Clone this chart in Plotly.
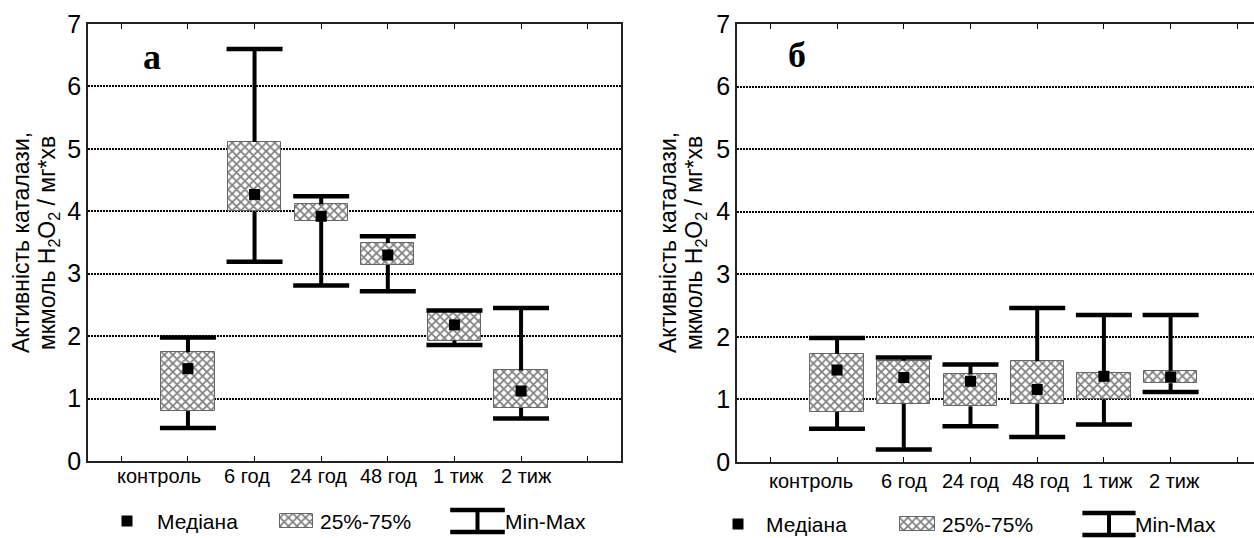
import plotly.graph_objects as go

# ---------------- data ----------------
categories = ["контроль", "6 год", "24 год", "48 год", "1 тиж", "2 тиж"]
positions = [1, 2, 3, 4, 5, 6]
tick_positions = [0, 1, 2, 3, 4, 5, 6, 7]
y_ticks = [0, 1, 2, 3, 4, 5, 6, 7]

# panel а
a_min = [0.53, 3.19, 2.81, 2.72, 1.86, 0.68]
a_q1 = [0.80, 4.00, 3.84, 3.14, 1.93, 0.85]
a_med = [1.48, 4.27, 3.92, 3.30, 2.18, 1.12]
a_q3 = [1.74, 5.11, 4.11, 3.49, 2.39, 1.45]
a_max = [1.98, 6.60, 4.24, 3.60, 2.41, 2.45]

# panel б
b_min = [0.53, 0.20, 0.57, 0.40, 0.60, 1.12]
b_q1 = [0.80, 0.93, 0.89, 0.93, 1.00, 1.26]
b_med = [1.47, 1.35, 1.29, 1.16, 1.37, 1.36]
b_q3 = [1.73, 1.62, 1.40, 1.61, 1.42, 1.46]
b_max = [1.98, 1.67, 1.56, 2.46, 2.35, 2.35]

legend_labels = ["Медіана", "25%-75%", "Min-Max"]
y_title_1 = "Активність каталази,"
y_title_2 = "мкмоль H<sub>2</sub>O<sub>2</sub> / мг*хв"

# ---------------- style ----------------
W, H = 1254, 538
SANS = "Liberation Sans, Arial, sans-serif"
SERIF = "Liberation Serif, Times New Roman, serif"
label_shift_a = [-29, -8, -3, 1, 4, 5]
label_shift_b = [-26, 0, 0, 3, 4, 4]

HATCH = dict(shape="x", fgcolor="black", bgcolor="white", size=6, solidity=0.5)

fig = go.Figure()


def add_panel(xa, ya, vmin, q1, med, q3, vmax):
    xref = "x" if xa == 1 else f"x{xa}"
    yref = "y" if ya == 1 else f"y{ya}"
    fig.add_trace(go.Bar(
        x=positions, base=q1, y=[b - a for a, b in zip(q1, q3)], width=0.8,
        marker=dict(color="white", pattern=HATCH, line=dict(color="#666", width=1)),
        xaxis=xref, yaxis=yref, showlegend=False, hoverinfo="skip"))
    wx, wy = [], []
    for p, lo, a, b, hi in zip(positions, vmin, q1, q3, vmax):
        wx += [p, p, None, p, p, None]
        wy += [b, hi, None, a, lo, None]
    fig.add_trace(go.Scatter(
        x=wx, y=wy, mode="lines", line=dict(color="black", width=4),
        xaxis=xref, yaxis=yref, showlegend=False, hoverinfo="skip"))
    fig.add_trace(go.Scatter(
        x=positions + positions, y=vmax + vmin, mode="markers",
        marker=dict(symbol="line-ew", size=40, line=dict(color="black", width=4.5)),
        xaxis=xref, yaxis=yref, showlegend=False, hoverinfo="skip"))
    fig.add_trace(go.Scatter(
        x=positions, y=med, mode="markers",
        marker=dict(symbol="square", size=11, color="black"),
        xaxis=xref, yaxis=yref, showlegend=False, hoverinfo="skip"))


add_panel(1, 1, a_min, a_q1, a_med, a_q3, a_max)
add_panel(2, 2, b_min, b_q1, b_med, b_q3, b_max)

xcommon = dict(tickvals=tick_positions, showticklabels=False, ticks="inside", ticklen=5,
               tickcolor="black", tickwidth=1, showline=True, linecolor="#222", linewidth=1.5,
               mirror="ticks", showgrid=False, zeroline=False, fixedrange=True, automargin=False)
ycommon = dict(range=[0, 7], tickvals=y_ticks, ticks="", showgrid=True, gridcolor="black",
               gridwidth=1.5, griddash="2px,1px", showline=True, linecolor="#222", linewidth=1.5,
               zeroline=False, tickfont=dict(family=SANS, size=25, color="black"),
               fixedrange=True, automargin=False)

fig.update_layout(
    width=W, height=H, margin=dict(l=0, r=0, t=0, b=0, pad=0, autoexpand=False),
    paper_bgcolor="white", plot_bgcolor="rgba(0,0,0,0)",
    showlegend=False, bargap=0,
    xaxis=dict(domain=[88 / W, 621 / W], range=[-0.5, 7.5], anchor="y", **xcommon),
    yaxis=dict(domain=[(H - 461) / H, (H - 24) / H], anchor="x", mirror=True, **ycommon),
    xaxis2=dict(domain=[737 / W, 1.0], range=[-0.5, 7.25], anchor="y2", **xcommon),
    yaxis2=dict(domain=[(H - 462) / H, (H - 24) / H], anchor="x2", mirror=False, **ycommon),
    xaxis3=dict(domain=[0, 1], range=[0, W], visible=False, fixedrange=True, anchor="y3"),
    yaxis3=dict(domain=[0, 1], range=[H, 0], visible=False, fixedrange=True, anchor="x3"),
)

ann = []
# category labels under the axes
for xr, yr, shifts, ys in (("x", "y", label_shift_a, -15), ("x2", "y2", label_shift_b, -19)):
    for p, c, s in zip(positions, categories, shifts):
        ann.append(dict(x=p, y=0, xref=xr, yref=yr, text=c, showarrow=False, xshift=s, yshift=ys,
                        xanchor="center", yanchor="middle",
                        font=dict(family=SANS, size=20, color="black")))

# y titles
for x1, x2 in ((21, 49), (668, 696)):
    for xx, t in ((x1, y_title_1), (x2, y_title_2)):
        ann.append(dict(x=xx / W, y=(H - 243) / H, xref="paper", yref="paper", text=t,
                        textangle=-90, showarrow=False, xanchor="center", yanchor="middle",
                        font=dict(family=SANS, size=23, color="black")))

# panel letters
for xx, yy, t in ((152, 57, "а"), (797, 55, "б")):
    ann.append(dict(x=xx, y=yy, xref="x3", yref="y3", text=f"<b>{t}</b>", showarrow=False,
                    xanchor="center", yanchor="middle",
                    font=dict(family=SERIF, size=36, color="black")))

# custom legends (drawn on an overlay axis in pixel units)
legend_rows = [
    dict(y=521, sq=127, t1=155, sw=(280, 313), t2=318, ib=(458, 497), t3=503),
    dict(y=524, sq=738, t1=764, sw=(900, 935), t2=940, ib=(1090, 1128), t3=1133),
]
for r in legend_rows:
    y = r["y"]
    fig.add_trace(go.Scatter(x=[r["sq"]], y=[y], mode="markers", xaxis="x3", yaxis="y3",
                             marker=dict(symbol="square", size=11, color="black"),
                             showlegend=False, hoverinfo="skip"))
    fig.add_trace(go.Bar(x=[(r["sw"][0] + r["sw"][1]) / 2], base=[y - 7], y=[14],
                         width=[r["sw"][1] - r["sw"][0]], xaxis="x3", yaxis="y3",
                         marker=dict(color="white", pattern=HATCH,
                                     line=dict(color="#666", width=1)),
                         showlegend=False, hoverinfo="skip"))
    cx = (r["ib"][0] + r["ib"][1]) / 2
    fig.add_trace(go.Scatter(x=[cx, cx], y=[y - 11, y + 11], mode="lines", xaxis="x3", yaxis="y3",
                             line=dict(color="black", width=4), showlegend=False, hoverinfo="skip"))
    fig.add_trace(go.Scatter(x=[cx, cx], y=[y - 11, y + 11], mode="markers", xaxis="x3", yaxis="y3",
                             marker=dict(symbol="line-ew", size=r["ib"][1] - r["ib"][0],
                                         line=dict(color="black", width=4.5)),
                             showlegend=False, hoverinfo="skip"))
    for xx, t in ((r["t1"], legend_labels[0]), (r["t2"], legend_labels[1]), (r["t3"], legend_labels[2])):
        ann.append(dict(x=xx, y=y, xref="x3", yref="y3", text=t, showarrow=False,
                        xanchor="left", yanchor="middle",
                        font=dict(family=SANS, size=21, color="black")))

fig.update_layout(annotations=ann)
fig.write_html("out.html", config={"displayModeBar": False},
               post_script="document.body.style.margin='0';document.body.style.overflow='hidden';")
